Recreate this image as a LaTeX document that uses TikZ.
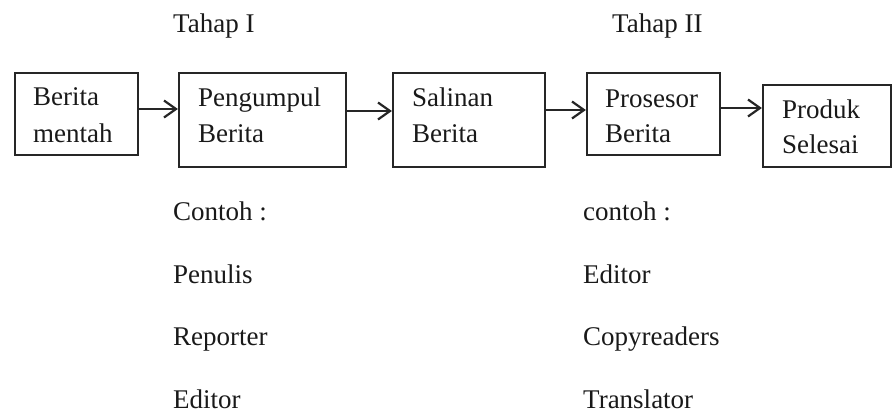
\documentclass[tikz,border=0pt]{standalone}
\usepackage{fontspec}
\setmainfont{Liberation Serif}
\usetikzlibrary{arrows.meta}
\begin{document}
\begin{tikzpicture}[x=1pt,y=-1pt,
  box/.style={draw=black!85, line width=2.2pt, inner sep=0pt},
  txt/.style={anchor=base west, inner sep=0pt, text=black!90,
    font=\fontsize{27}{32}\selectfont},
  arr/.style={draw=black!85, line width=2.2pt,
    -{Straight Barb[length=12pt,width=17pt,line width=2.2pt]}}]
\useasboundingbox (0,0) rectangle (893,413);

% stage headings
\node[txt] (t1) at (173,32) {Tahap I};
\node[txt] (t2) at (612,32) {Tahap II};

% process boxes
\node[box, minimum width=123pt, minimum height=82pt] (b1) at (76.5,114) {};
\node[box, minimum width=167pt, minimum height=94pt] (b2) at (262.5,120) {};
\node[box, minimum width=152pt, minimum height=94pt] (b3) at (469,120) {};
\node[box, minimum width=133pt, minimum height=82pt] (b4) at (653.5,114) {};
\node[box, minimum width=128pt, minimum height=82pt] (b5) at (827,126) {};

% box labels
\node[txt] (l1a) at (33,105) {Berita};
\node[txt] (l1b) at (33,142) {mentah};
\node[txt] (l2a) at (198,106) {Pengumpul};
\node[txt] (l2b) at (198,142) {Berita};
\node[txt] (l3a) at (412,106) {Salinan};
\node[txt] (l3b) at (412,142) {Berita};
\node[txt] (l4a) at (605,107) {Prosesor};
\node[txt] (l4b) at (605,142) {Berita};
\node[txt] (l5a) at (782,118) {Produk};
\node[txt] (l5b) at (782,153) {Selesai};

% flow arrows
\draw[arr] ([yshift=5pt]b1.east) -- ([yshift=5pt]b1.east -| b2.west);
\draw[arr] ([yshift=9pt]b2.east) -- ([yshift=9pt]b2.east -| b3.west);
\draw[arr] ([yshift=10pt]b3.east) -- ([yshift=10pt]b3.east -| b4.west);
\draw[arr] ([yshift=6pt]b4.east) -- ([yshift=6pt]b4.east -| b5.west);

% examples for stage I
\node[txt] (e1) at (173,220) {Contoh :};
\node[txt] (e2) at (173,283) {Penulis};
\node[txt] (e3) at (173,345) {Reporter};
\node[txt] (e4) at (173,408) {Editor};

% examples for stage II
\node[txt] (f1) at (583,220) {contoh :};
\node[txt] (f2) at (583,283) {Editor};
\node[txt] (f3) at (583,345) {Copyreaders};
\node[txt] (f4) at (583,408) {Translator};
\end{tikzpicture}
\end{document}
